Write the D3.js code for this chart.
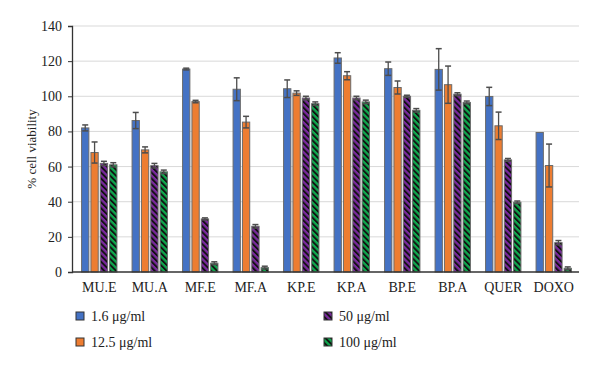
<!DOCTYPE html>
<html>
<head>
<meta charset="utf-8">
<script src="https://cdn.jsdelivr.net/npm/d3@7"></script>
<style>
body { margin: 0; background: #fff; }
text { font-family: "Liberation Serif", "DejaVu Serif", serif; fill: #222; }
</style>
</head>
<body>
<svg id="svg"></svg>
<script>
var categories = ["MU.E", "MU.A", "MF.E", "MF.A", "KP.E", "KP.A", "BP.E", "BP.A", "QUER", "DOXO"];
var seriesNames = ["1.6 \u03bcg/ml", "12.5 \u03bcg/ml", "50 \u03bcg/ml", "100 \u03bcg/ml"];

var blueVals   = [82, 86.2, 115.5, 104, 104.3, 121.8, 115.7, 115.3, 99.9, 79.4];
var orangeVals = [68, 69.5, 97, 85.3, 101.8, 111.7, 105, 106.6, 83.2, 60.6];
var purpleVals = [61.8, 60.5, 30.2, 26, 99, 99, 100, 101.2, 63.8, 16.7];
var greenVals  = [61, 57, 5, 2.5, 95.8, 96.8, 92, 96.5, 39.7, 2.1];

var blueErr   = [1.7, 4.6, 0.5, 6.5, 5, 3, 3.8, 11.8, 5.2, 0];
var orangeErr = [6, 1.7, 0.7, 3.3, 1.3, 2.3, 3.7, 10.6, 7.8, 12.2];
var purpleErr = [1.2, 1.3, 0.6, 1, 1, 1, 0.6, 0.8, 0.8, 1.2];
var greenErr  = [1.2, 1, 0.8, 0.8, 1, 1, 1, 0.8, 0.7, 0.8];

var yTicks = [0, 20, 40, 60, 80, 100, 120, 140];

var series = [
	{name: seriesNames[0], vals: blueVals, errs: blueErr, fill: "#4472C4"},
	{name: seriesNames[1], vals: orangeVals, errs: orangeErr, fill: "#ED7D31"},
	{name: seriesNames[2], vals: purpleVals, errs: purpleErr, fill: "url(#hatchPurple)"},
	{name: seriesNames[3], vals: greenVals, errs: greenErr, fill: "url(#hatchGreen)"}
];

var width = 600, height = 371;
var svg = d3.select("#svg").attr("width", width).attr("height", height);

// hatch patterns
var defs = svg.append("defs");
function hatch(id, color) {
	var p = defs.append("pattern")
		.attr("id", id)
		.attr("patternUnits", "userSpaceOnUse")
		.attr("width", 4.2).attr("height", 4.2)
		.attr("patternTransform", "rotate(-45)");
	p.append("rect").attr("width", 4.2).attr("height", 4.2).attr("fill", color);
	p.append("rect").attr("width", 1.9).attr("height", 4.2).attr("fill", "#111");
}
hatch("hatchPurple", "#7A2A9E");
hatch("hatchGreen", "#10A84E");

var x = d3.scaleBand().domain(categories).range([74, 579]).paddingInner(0.3).paddingOuter(0.15);
var xSub = d3.scaleBand().domain(d3.range(4)).range([0, x.bandwidth()]).paddingInner(0.22);
var y = d3.scaleLinear().domain([0, 140]).range([272, 26]);

// gridlines
svg.append("g").selectAll("line").data(yTicks.filter(function(t){ return t > 0; }))
	.enter().append("line")
	.attr("x1", 72).attr("x2", 579)
	.attr("y1", function(d){ return y(d); }).attr("y2", function(d){ return y(d); })
	.attr("stroke", "#d9d9d9").attr("stroke-width", 1);

// y axis
var yAxis = svg.append("g").attr("transform", "translate(72,0)")
	.call(d3.axisLeft(y).tickValues(yTicks).tickSize(4).tickPadding(6));
yAxis.select(".domain").attr("stroke", "#333").attr("stroke-width", 1.3);
yAxis.selectAll(".tick line").attr("stroke", "#333");
yAxis.selectAll("text").style("font-family", "Liberation Serif, serif").style("font-size", "14px").attr("fill", "#222");

// bars
var groups = svg.append("g").selectAll("g").data(categories).enter().append("g")
	.attr("transform", function(d){ return "translate(" + x(d) + ",0)"; });

series.forEach(function(s, si) {
	groups.append("rect")
		.attr("x", xSub(si))
		.attr("width", xSub.bandwidth())
		.attr("y", function(d, i){ return y(s.vals[i]); })
		.attr("height", function(d, i){ return y(0) - y(s.vals[i]); })
		.attr("fill", s.fill)
		.attr("stroke", "#6b6b6b").attr("stroke-width", 1);
});

// error bars
series.forEach(function(s, si) {
	var cx = xSub(si) + xSub.bandwidth() / 2;
	groups.each(function(d, i) {
		if (s.errs[i] <= 0) return;
		var g = d3.select(this);
		var top = y(s.vals[i] + s.errs[i]), bot = y(Math.max(0, s.vals[i] - s.errs[i]));
		g.append("line").attr("x1", cx).attr("x2", cx).attr("y1", top).attr("y2", bot)
			.attr("stroke", "#4d4d4d").attr("stroke-width", 1.3);
		[top, bot].forEach(function(yy) {
			g.append("line").attr("x1", cx - 3).attr("x2", cx + 3).attr("y1", yy).attr("y2", yy)
				.attr("stroke", "#4d4d4d").attr("stroke-width", 1.5);
		});
	});
});

// x axis
var xAxis = svg.append("g").attr("transform", "translate(0,272)")
	.call(d3.axisBottom(x).tickSize(0).tickPadding(10));
xAxis.select(".domain").attr("d", "M72,0H579").attr("stroke", "#333").attr("stroke-width", 1.5);
xAxis.selectAll("text").style("font-family", "Liberation Serif, serif").style("font-size", "14px").attr("fill", "#222");

// y title
svg.append("text")
	.attr("transform", "translate(36,149) rotate(-90)")
	.attr("text-anchor", "middle")
	.style("font-size", "13px")
	.text("% cell viability");

// legend
var legendPos = [[80, 316], [80, 342], [328, 316], [328, 342]];
var legend = svg.append("g").selectAll("g").data(series).enter().append("g")
	.attr("transform", function(d, i){ return "translate(" + legendPos[i][0] + "," + legendPos[i][1] + ")"; });
legend.append("rect").attr("x", -4).attr("y", -4).attr("width", 8).attr("height", 8)
	.attr("fill", function(d){ return d.fill; })
	.attr("stroke", "#333").attr("stroke-width", 1);
legend.append("text").attr("x", 11).attr("y", 5)
	.style("font-size", "14px")
	.text(function(d){ return d.name; });
</script>
</body>
</html>
